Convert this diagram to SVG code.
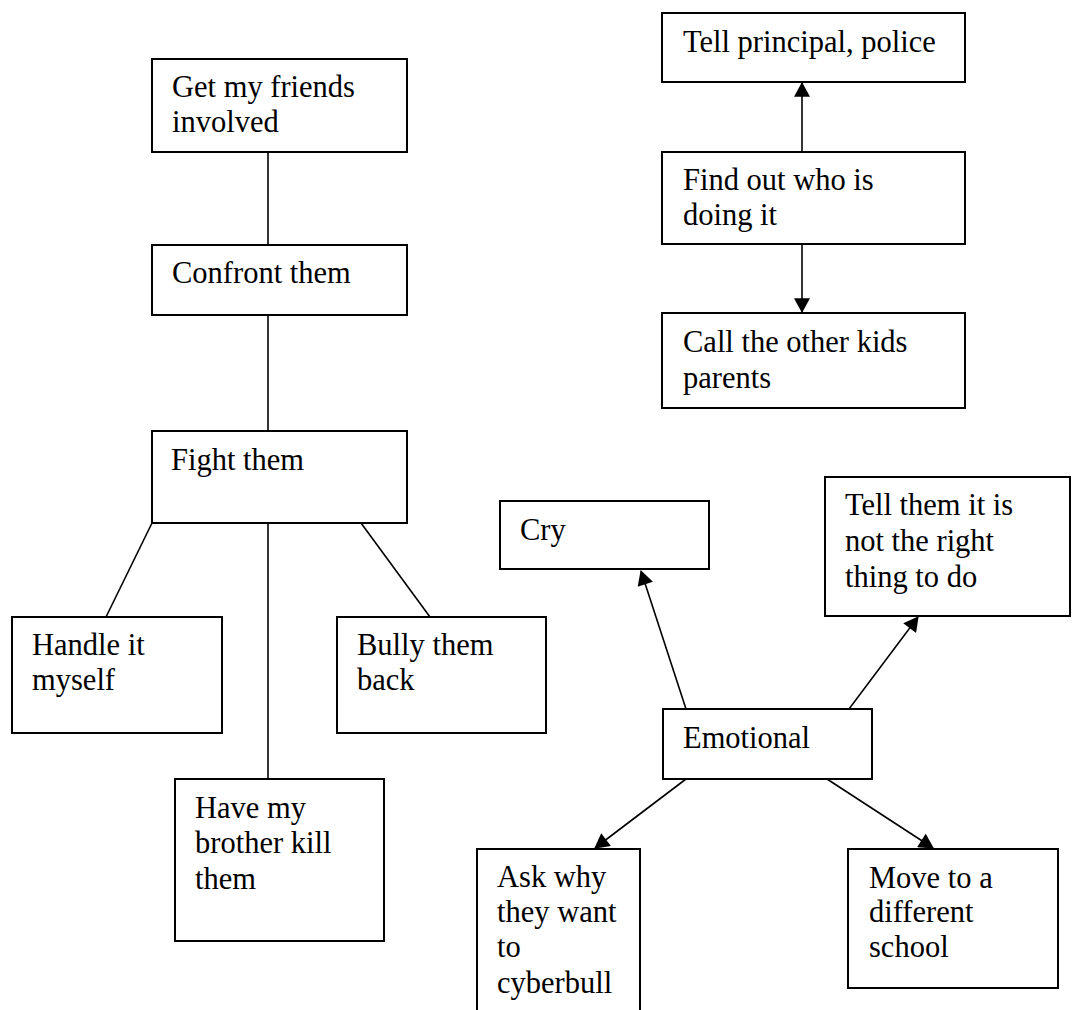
<svg xmlns="http://www.w3.org/2000/svg" width="1072" height="1010" viewBox="0 0 1072 1010">
  <style>
    .box { fill: #ffffff; stroke: #000000; stroke-width: 2; }
    .lbl { font-family: "Liberation Serif", "Times New Roman", serif; font-size: 30.5px; fill: #000000; }
    .edge { fill: none; stroke: #000000; stroke-width: 1.6; }
    .arrow { marker-end: url(#head); }
  </style>
  <defs>
    <marker id="head" markerUnits="userSpaceOnUse" markerWidth="16" markerHeight="16" viewBox="0 0 14 15" refX="13" refY="7.5" orient="auto">
      <path d="M0,0 L14,7.5 L0,15 Z" fill="#000000"/>
    </marker>
  </defs>

  <rect width="1072" height="1010" fill="#ffffff"/>

  <!-- connectors -->
  <g id="connectors">
    <line class="edge" x1="268" y1="152" x2="268" y2="245"/>
    <line class="edge" x1="268" y1="315" x2="268" y2="431"/>
    <line class="edge" x1="152" y1="523" x2="106" y2="617"/>
    <line class="edge" x1="268" y1="523" x2="268" y2="779"/>
    <line class="edge" x1="361" y1="523" x2="430" y2="617"/>

    <line class="edge arrow" x1="802" y1="152" x2="802" y2="83"/>
    <line class="edge arrow" x1="802" y1="244" x2="802" y2="312"/>

    <line class="edge arrow" x1="686" y1="709" x2="641" y2="571"/>
    <line class="edge arrow" x1="849" y1="709" x2="918" y2="617"/>
    <line class="edge arrow" x1="686" y1="779" x2="595" y2="848"/>
    <line class="edge arrow" x1="827" y1="779" x2="933" y2="848"/>
  </g>

  <!-- left tree -->
  <g id="friends">
    <rect class="box" x="152" y="59" width="255" height="93"/>
    <text class="lbl" x="172" y="97">Get my friends</text>
    <text class="lbl" x="172" y="132">involved</text>
  </g>
  <g id="confront">
    <rect class="box" x="152" y="245" width="255" height="70"/>
    <text class="lbl" x="172" y="283">Confront them</text>
  </g>
  <g id="fight">
    <rect class="box" x="152" y="431" width="255" height="92"/>
    <text class="lbl" x="171" y="470">Fight them</text>
  </g>
  <g id="handle">
    <rect class="box" x="12" y="617" width="210" height="116"/>
    <text class="lbl" x="32" y="655">Handle it</text>
    <text class="lbl" x="32" y="690">myself</text>
  </g>
  <g id="bully">
    <rect class="box" x="337" y="617" width="209" height="116"/>
    <text class="lbl" x="357" y="655">Bully them</text>
    <text class="lbl" x="357" y="690">back</text>
  </g>
  <g id="brother">
    <rect class="box" x="175" y="779" width="209" height="162"/>
    <text class="lbl" x="195" y="818">Have my</text>
    <text class="lbl" x="195" y="853">brother kill</text>
    <text class="lbl" x="195" y="889">them</text>
  </g>

  <!-- upper right chain -->
  <g id="principal">
    <rect class="box" x="662" y="13" width="303" height="69"/>
    <text class="lbl" x="683" y="52">Tell principal, police</text>
  </g>
  <g id="findout">
    <rect class="box" x="662" y="152" width="303" height="92"/>
    <text class="lbl" x="683" y="190">Find out who is</text>
    <text class="lbl" x="683" y="225">doing it</text>
  </g>
  <g id="parents">
    <rect class="box" x="662" y="313" width="303" height="95"/>
    <text class="lbl" x="683" y="352">Call the other kids</text>
    <text class="lbl" x="683" y="388">parents</text>
  </g>

  <!-- emotional cluster -->
  <g id="cry">
    <rect class="box" x="500" y="501" width="209" height="68"/>
    <text class="lbl" x="520" y="540">Cry</text>
  </g>
  <g id="tellthem">
    <rect class="box" x="825" y="477" width="245" height="139"/>
    <text class="lbl" x="845" y="515">Tell them it is</text>
    <text class="lbl" x="845" y="551">not the right</text>
    <text class="lbl" x="845" y="587">thing to do</text>
  </g>
  <g id="emotional">
    <rect class="box" x="663" y="709" width="209" height="70"/>
    <text class="lbl" x="683" y="748">Emotional</text>
  </g>
  <g id="askwhy">
    <rect class="box" x="477" y="849" width="163" height="170"/>
    <text class="lbl" x="497" y="887">Ask why</text>
    <text class="lbl" x="497" y="922">they want</text>
    <text class="lbl" x="497" y="957">to</text>
    <text class="lbl" x="497" y="993">cyberbull</text>
  </g>
  <g id="move">
    <rect class="box" x="848" y="849" width="210" height="139"/>
    <text class="lbl" x="869" y="888">Move to a</text>
    <text class="lbl" x="869" y="922">different</text>
    <text class="lbl" x="869" y="957">school</text>
  </g>
</svg>
